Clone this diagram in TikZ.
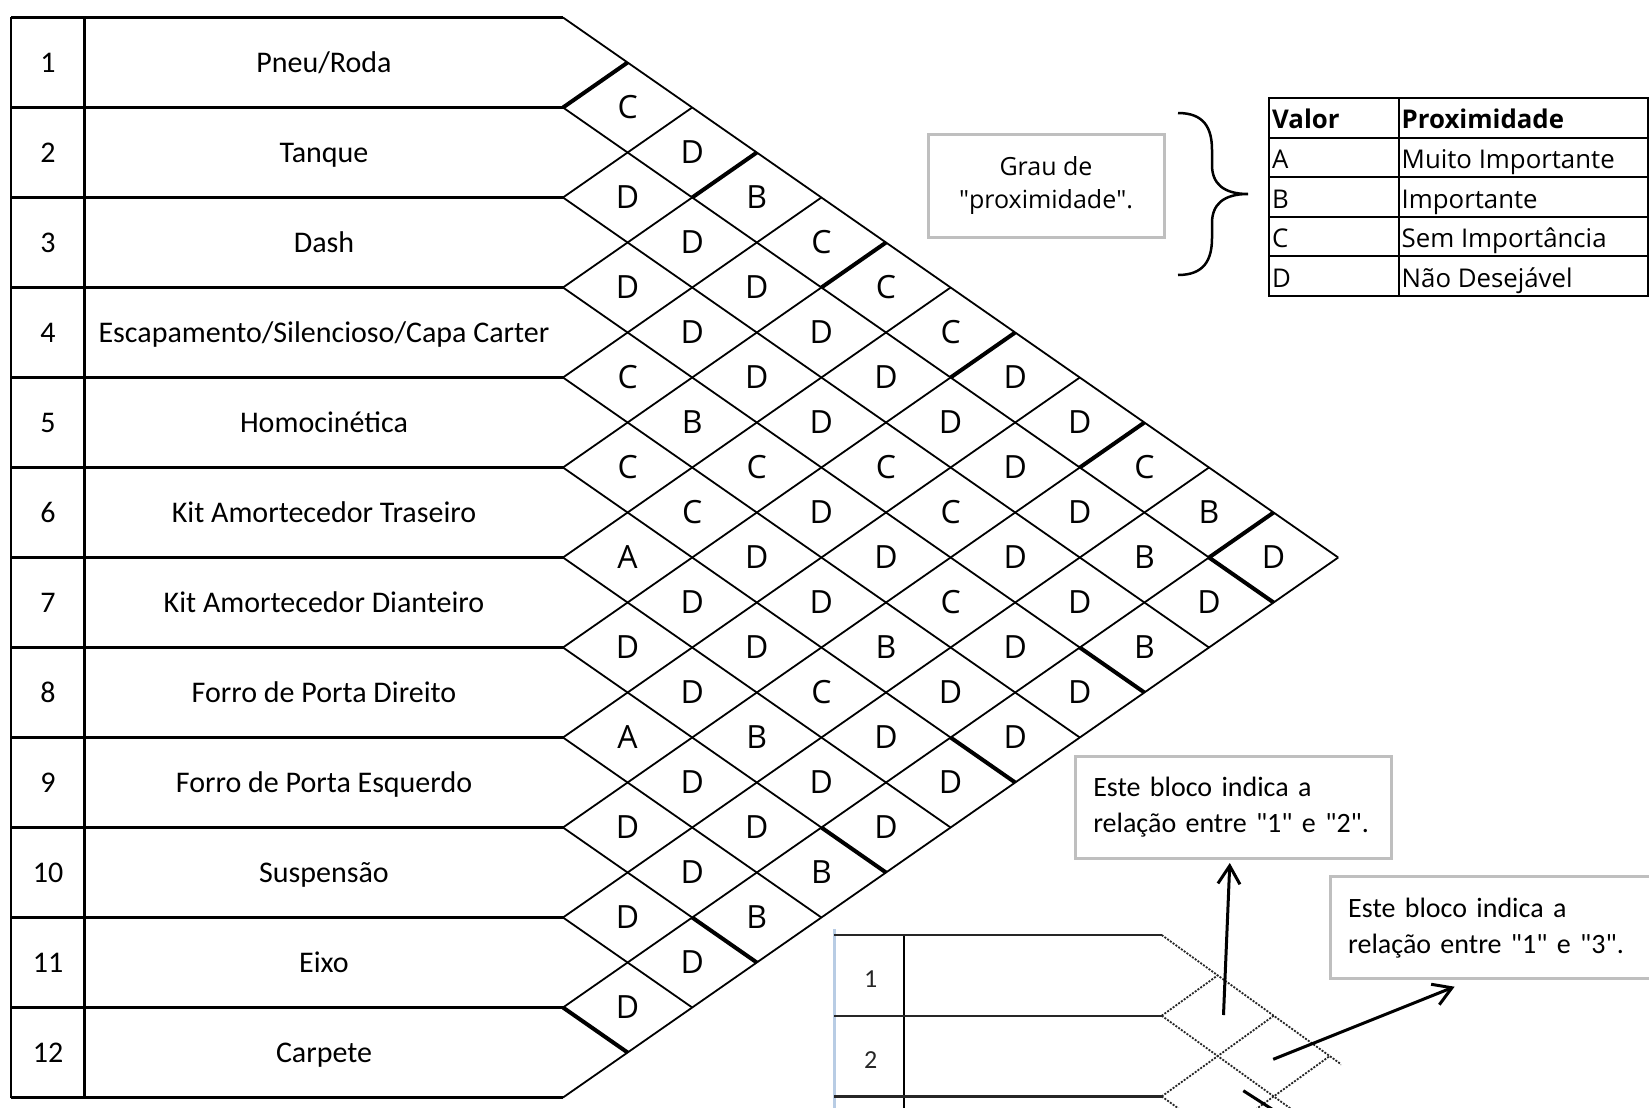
\documentclass[tikz,border=0pt]{standalone}
\usepackage{fontspec}
\setmainfont{Carlito}
\newfontfamily\opensans{Open Sans}
\usetikzlibrary{arrows.meta}
\definecolor{cellblue}{RGB}{184,204,228}

\begin{document}
\begin{tikzpicture}[x=1pt, y=-1pt,
  num/.style={font=\fontsize{30}{36}\selectfont, inner sep=0pt, text height=19.3pt, text depth=0pt},
  item/.style={num},
  rel/.style={font=\opensans\fontsize{32}{38}\selectfont, inner sep=0pt},
  leg/.style={font=\opensans\fontsize{25.8}{30}\selectfont, anchor=west, inner xsep=3pt, inner ysep=0pt, text height=22pt, text depth=0pt},
  note/.style={draw=black!25, line width=3pt, align=left, anchor=north west, inner xsep=18pt, font=\fontsize{28}{36}\selectfont},
  rowline/.style={line width=2.2pt},
  diagline/.style={line width=1.8pt},
  heavy/.style={line width=4pt},
  dotline/.style={black!85, line width=1.8pt, dash pattern=on 2pt off 1.4pt},
  >={Straight Barb[length=18pt, width=22pt]}]
  \useasboundingbox (0,0) rectangle (1649,1108);
  \clip (0,0) rectangle (1649,1108);
  \def\gx{563} \def\gw{64.6} \def\gy{17.5} \def\gh{90}
  % item table
  \draw[rowline] (11,\gy) -- (11,{\gy+12*\gh});
  \draw[rowline] (84.5,\gy) -- (84.5,{\gy+12*\gh});
  \foreach \k in {0,...,12}
    \draw[rowline] (11,{\gy+\k*\gh}) -- (\gx,{\gy+\k*\gh});
  \foreach \lbl [count=\k] in {{Pneu/Roda}, Tanque, Dash, {Escapamento/Silencioso/Capa Carter}, Homocinética,
      Kit Amortecedor Traseiro, Kit Amortecedor Dianteiro, Forro de Porta Direito, Forro de Porta Esquerdo,
      Suspensão, Eixo, Carpete} {
    \node[num] (num\k) at (48,{\gy+(\k-0.5)*\gh}) {\k};
    \node[item] (item\k) at (324,{\gy+(\k-0.5)*\gh}) {\lbl};
  }
  % relationship grid
  \foreach \k in {0,...,12} {
    \draw[diagline] (\gx,{\gy+\k*\gh}) -- ++({\k*\gw},{-\k*\gh/2});
    \draw[diagline] (\gx,{\gy+\k*\gh}) -- ++({(12-\k)*\gw},{(12-\k)*\gh/2});
  }
  \foreach \m in {1,...,6} {
    \draw[heavy] ({\gx+(2*\m-2)*\gw},{\gy+\m*\gh}) -- ++(\gw,{-\gh/2});
    \draw[heavy] ({\gx+(12-2*\m)*\gw},{\gy+(5+\m)*\gh}) -- ++(\gw,{\gh/2});
  }
  \foreach \i/\vals in {1/{C,D,B,C,C,C,D,D,C,B,D}, 2/{D,D,D,D,D,D,D,D,B,D}, 3/{D,D,D,D,C,C,D,D,B},
      4/{C,B,C,D,D,C,D,D}, 5/{C,C,D,D,B,D,D}, 6/{A,D,D,C,D,D}, 7/{D,D,B,D,D}, 8/{A,D,D,B},
      9/{D,D,B}, 10/{D,D}, 11/{D}}
    \foreach \v [count=\d] in \vals {
      \pgfmathtruncatemacro\j{\i+\d}
      \node[rel] (p\i-\j) at ({\gx+\d*\gw},{\gy+(2*\i+\d-1)*\gh/2}) {\v};
    }
  % legend
  \node[draw=black!25, line width=3pt, align=center, minimum width=236pt, minimum height=103pt,
    font=\opensans\fontsize{25}{33.4}\selectfont] (grau) at (1046,185.8)
    {Grau de\\\textquotedbl proximidade\textquotedbl.};
  \draw[line width=2.5pt] (1178,113) .. controls (1204,113) and (1212,128) .. (1212,150) -- (1212,165)
    .. controls (1212,184) and (1224,194) .. (1248,194)
    .. controls (1224,194) and (1212,204) .. (1212,223) -- (1212,238)
    .. controls (1212,260) and (1204,275) .. (1178,275);
  \draw[line width=2pt] (1269,98) rectangle (1648,296);
  \draw[line width=2pt] (1398.5,98) -- (1398.5,296);
  \foreach \r in {1,...,4}
    \draw[line width=2pt] (1269,{98+\r*39.6}) -- (1648,{98+\r*39.6});
  \node[leg, font=\opensans\bfseries\fontsize{25.8}{30}\selectfont] (hval) at (1269,117.8) {Valor};
  \node[leg, font=\opensans\bfseries\fontsize{25.8}{30}\selectfont] (hprox) at (1398.5,117.8) {Proximidade};
  \foreach \v/\t [count=\r] in {A/Muito Importante, B/Importante, C/Sem Importância, D/Não Desejável} {
    \node[leg] (val\v) at (1269,{98+(\r+0.5)*39.6}) {\v};
    \node[leg] (prox\v) at (1398.5,{98+(\r+0.5)*39.6}) {\t};
  }
  % example
  \begin{scope}
    \clip (832,929) rectangle (1341,1108);
    \draw[cellblue, line width=3pt] (834,929) -- (834,1108);
    \draw[line width=2pt] (904,935) -- (904,1108);
    \foreach \k in {0,1,2} {
      \draw[black!85, line width=2.2pt] (834,{935+\k*80.7}) -- (1161.7,{935+\k*80.7});
    }
    \foreach \k in {0,...,3} {
      \draw[dotline] (1161.7,{935+\k*80.7}) -- ++({\k*56},{-\k*40.35});
      \draw[dotline] (1161.7,{935+\k*80.7}) -- ++(224,161.4);
    }
    \node[font=\fontsize{26}{30}\selectfont, text=black!85] (ex1) at (870.7,979) {1};
    \node[font=\fontsize{26}{30}\selectfont, text=black!85] (ex2) at (870.7,1060) {2};
  \end{scope}
  \node[note, text width=280pt, minimum height=101.7pt] (blk12) at (1073.8,755)
    {Este bloco indica a\\relação entre \textquotedbl 1\textquotedbl{} e \textquotedbl 2\textquotedbl.};
  \node[note, text width=330pt, minimum height=102.3pt] (blk13) at (1328.7,875)
    {Este bloco indica a\\relação entre \textquotedbl 1\textquotedbl{} e \textquotedbl 3\textquotedbl.};
  \coordinate (s12) at (1223.5,1015);
  \coordinate (t12) at (1229.8,863);
  \coordinate (s13) at (1273.2,1059.3);
  \coordinate (t13) at (1454.6,986.7);
  \coordinate (s14) at (1243.3,1090.7);
  \coordinate (t14) at (1278,1113);
  \draw[->, line width=3pt] (s12) -- (t12);
  \draw[->, line width=3pt] (s13) -- (t13);
  \draw[line width=3pt] (s14) -- (t14);
\end{tikzpicture}
\end{document}
